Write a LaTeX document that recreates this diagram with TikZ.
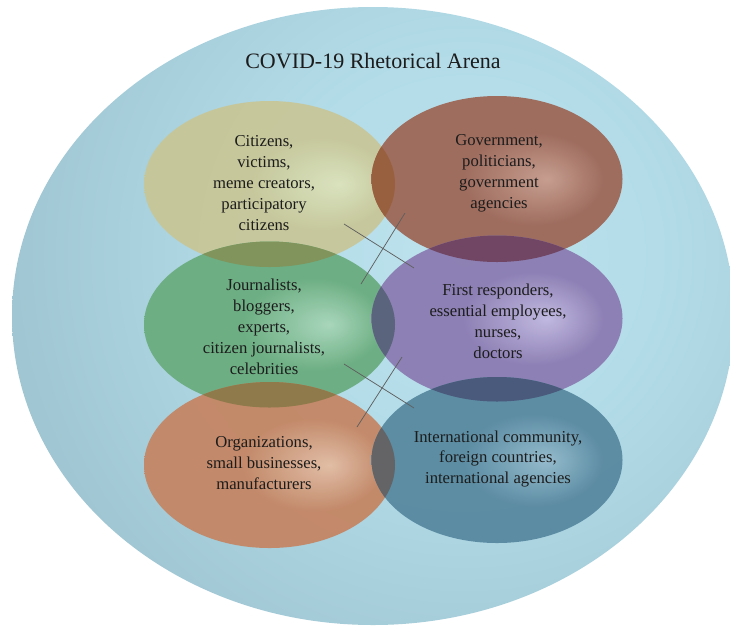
\documentclass[tikz,border=0pt]{standalone}
\usepackage{fontspec}
\setmainfont{Liberation Serif}
\usetikzlibrary{shapes.geometric}
% radial shadings: highlight offset to the right
\newcommand\mkshade[5]{%
  \pgfdeclareradialshading{#1}{\pgfpoint{#5}{0bp}}{%
    rgb(0bp)=(#2); rgb(14bp)=(#3); rgb(32bp)=(#3); rgb(50bp)=(#4)}}
\mkshade{shCit}{0.86,0.89,0.74}{0.78,0.78,0.60}{0.69,0.69,0.51}{14bp}
\mkshade{shGov}{0.78,0.61,0.55}{0.62,0.41,0.35}{0.54,0.35,0.29}{10bp}
\mkshade{shJou}{0.66,0.84,0.73}{0.42,0.68,0.50}{0.34,0.58,0.42}{12bp}
\mkshade{shFir}{0.76,0.72,0.88}{0.55,0.49,0.70}{0.46,0.41,0.60}{10bp}
\mkshade{shOrg}{0.89,0.74,0.64}{0.77,0.53,0.40}{0.62,0.43,0.33}{12bp}
\mkshade{shInt}{0.58,0.73,0.80}{0.35,0.54,0.63}{0.29,0.45,0.54}{10bp}
\pgfdeclareradialshading{shArena}{\pgfpoint{0bp}{0bp}}{%
  rgb(0bp)=(0.74,0.89,0.93); rgb(10bp)=(0.70,0.86,0.91); rgb(22bp)=(0.63,0.78,0.83);
  rgb(36bp)=(0.58,0.72,0.77); rgb(50bp)=(0.56,0.69,0.74)}
\definecolor{txt}{RGB}{28,28,28}
\definecolor{conn}{RGB}{95,95,95}
\definecolor{ovCG}{RGB}{152,96,62}
\definecolor{ovCJ}{RGB}{128,148,92}
\definecolor{ovGF}{RGB}{112,70,100}
\definecolor{ovJF}{RGB}{90,100,124}
\definecolor{ovJO}{RGB}{142,122,74}
\definecolor{ovFI}{RGB}{74,90,124}
\definecolor{ovOI}{RGB}{100,100,102}
\tikzset{
  lbl/.style={align=center, text=txt, font=\fontsize{12.5}{15.7}\selectfont, inner sep=0pt},
  ttl/.style={text=txt, font=\fontsize{16.5}{20}\selectfont, inner sep=0pt},
  conline/.style={draw=conn, line width=0.55pt},
  blob/.style={fill opacity=0.96}
}
\begin{document}
\begin{tikzpicture}[x=0.75pt,y=-0.75pt]
\useasboundingbox (0,0) rectangle (730,625);
% arena
\begin{scope}
  \clip (373,316) ellipse (361 and 309);
  \shade[shading=shArena] (465,255) circle (500);
\end{scope}
% ellipses
\shade[shading=shCit, blob] (269.5,184) ellipse (125.5 and 83);
\shade[shading=shGov, blob] (497,179) ellipse (125.5 and 83);
\shade[shading=shJou, blob] (269.5,324.5) ellipse (125.5 and 83);
\shade[shading=shFir, blob] (497,318.5) ellipse (125.5 and 83);
\shade[shading=shOrg, blob] (269.5,465) ellipse (125.5 and 83);
\shade[shading=shInt, blob] (497,460) ellipse (125.5 and 83);
% overlaps
\begin{scope}\clip (269.5,184) ellipse (125.5 and 83);
  \fill[ovCG] (497,179) ellipse (125.5 and 83);
  \fill[ovCJ] (269.5,324.5) ellipse (125.5 and 83);\end{scope}
\begin{scope}\clip (497,179) ellipse (125.5 and 83);
  \fill[ovGF] (497,318.5) ellipse (125.5 and 83);\end{scope}
\begin{scope}\clip (269.5,324.5) ellipse (125.5 and 83);
  \fill[ovJF] (497,318.5) ellipse (125.5 and 83);
  \fill[ovJO] (269.5,465) ellipse (125.5 and 83);\end{scope}
\begin{scope}\clip (497,318.5) ellipse (125.5 and 83);
  \fill[ovFI] (497,460) ellipse (125.5 and 83);\end{scope}
\begin{scope}\clip (269.5,465) ellipse (125.5 and 83);
  \fill[ovOI] (497,460) ellipse (125.5 and 83);\end{scope}
% title
\node[ttl] (title) at (373,61) {COVID-19 Rhetorical Arena};
% labels
\node[lbl] (cit) at (264,183) {Citizens,\\victims,\\meme creators,\\participatory\\citizens};
\node[lbl] (gov) at (499,173) {Government,\\politicians,\\government\\agencies};
\node[lbl] (jou) at (264,327) {Journalists,\\bloggers,\\experts,\\citizen journalists,\\celebrities};
\node[lbl] (fir) at (498,321) {First responders,\\essential employees,\\nurses,\\doctors};
\node[lbl] (org) at (264,463) {Organizations,\\small businesses,\\manufacturers};
\node[lbl] (int) at (498,459) {International community,\\foreign countries,\\international agencies};
% connectors
\coordinate (a1) at (344,224); \coordinate (a2) at (414,268);
\coordinate (b1) at (405,213); \coordinate (b2) at (361,284);
\coordinate (c1) at (344,364); \coordinate (c2) at (414,408);
\coordinate (d1) at (402,357); \coordinate (d2) at (357,427);
\draw[conline] (a1) -- (a2);
\draw[conline] (b1) -- (b2);
\draw[conline] (c1) -- (c2);
\draw[conline] (d1) -- (d2);
\end{tikzpicture}
\end{document}
